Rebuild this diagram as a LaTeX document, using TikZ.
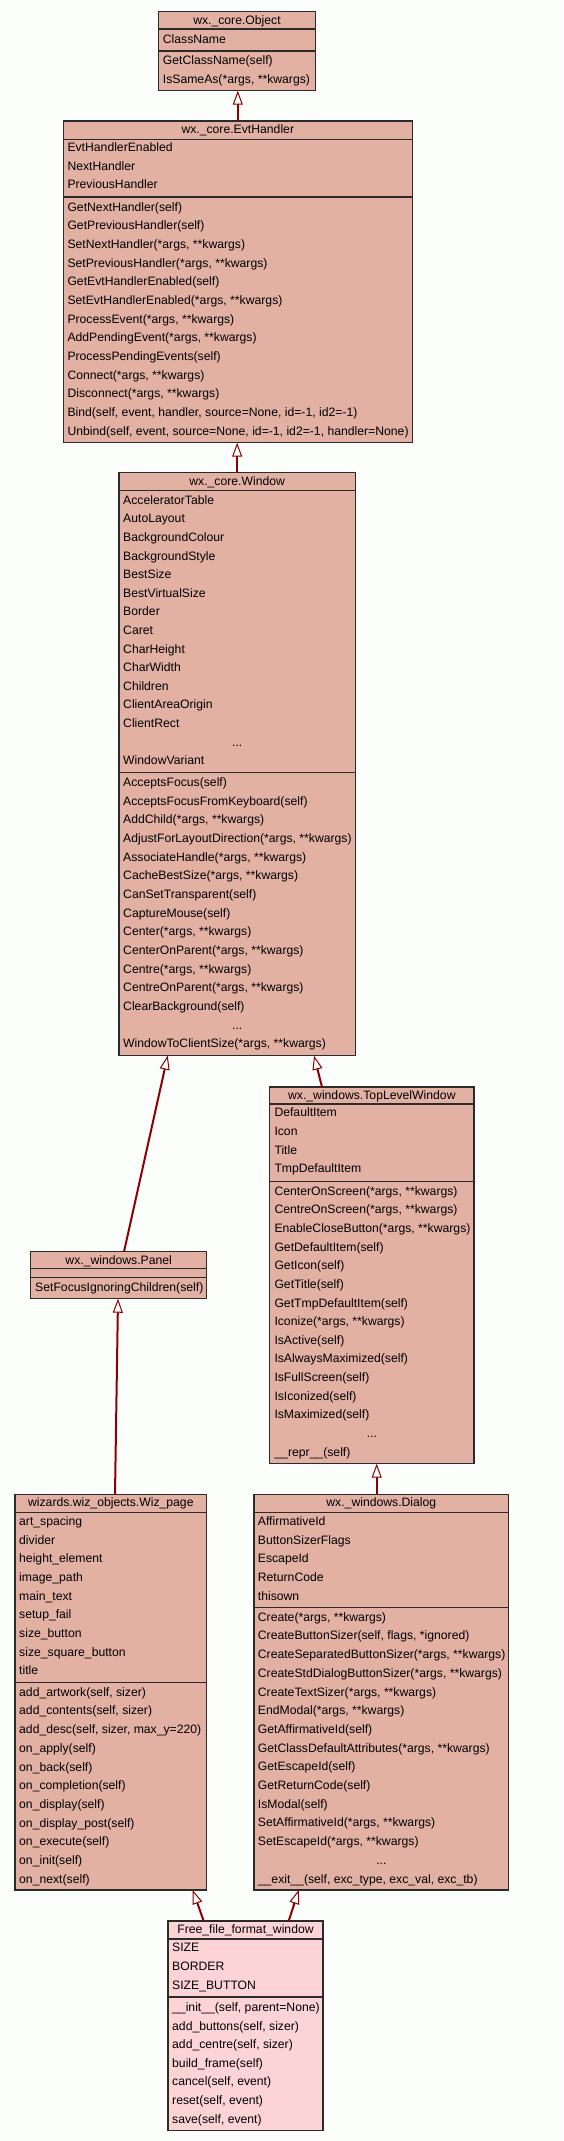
\documentclass[tikz,border=0pt]{standalone}
\usepackage{fontspec}
\setmainfont{Liberation Sans}
\usetikzlibrary{arrows.meta,fit}
\definecolor{clsfill}{HTML}{E2B1A3}
\definecolor{mainfill}{HTML}{FDD4D6}
\definecolor{inh}{HTML}{8B0000}
\definecolor{bg}{HTML}{FCFEFC}
\definecolor{bord}{HTML}{2B2B2B}
% #1 name #2 left #3 right #4 top #5 title sep #6 attr sep #7 bottom #8 fill
\newcommand\umlbox[8]{%
  \node[classbox, fill=#8, fit={(#2,#4) (#3,#7)}] (#1) {};
  \draw[sepline] (#2,#5) -- (#3,#5);
  \draw[sepline] (#2,#6) -- (#3,#6);
}
% #1 prefix #2 x #3 y of row 0 (centre) #4 row step #5 start row #6 list
\newcommand\crows[6]{%
  \foreach \t [count=\i from #5] in {#6} {%
    \node[rowtext] (#1-\i) at (#2,{#3+\i*#4+4.5}) {\t};
  }%
}
\begin{document}
\begin{tikzpicture}[x=1pt,y=-1pt,
  classbox/.style={draw=bord, line width=1.2pt, inner sep=0pt, outer sep=0pt},
  sepline/.style={draw=bord, line width=1.2pt},
  rowtext/.style={anchor=base west, inner sep=0pt, font=\fontsize{12.2}{14}\selectfont, text=black},
  titletext/.style={anchor=base, inner sep=0pt, font=\fontsize{12.2}{14}\selectfont, text=black},
  inherit/.style={draw=inh, line width=2pt, -{Triangle[length=14pt, width=10pt, fill=white, line width=1pt]}}]
\fill[bg] (0,0) rectangle (563,2141);
\useasboundingbox (0,0) rectangle (563,2141);

% wx._core.Object
\umlbox{obj}{158.3}{315.7}{11.7}{29}{51}{90.7}{clsfill}
\node[titletext] (obj-t) at (237,24.1) {wx.\_core.Object};
\crows{obj-a}{162.7}{38.7}{18.65}{0}{ClassName}
\crows{obj-m}{162.7}{60}{19.3}{0}{GetClassName(self), {IsSameAs(*args, **kwargs)}}

% wx._core.EvtHandler
\umlbox{evt}{63.3}{412.3}{121}{139.3}{197}{442.7}{clsfill}
\node[titletext] (evt-t) at (237.8,133.3) {wx.\_core.EvtHandler};
\crows{evt-a}{67.3}{147}{18.65}{0}{EvtHandlerEnabled, NextHandler, PreviousHandler}
\crows{evt-m}{67.3}{206.7}{18.67}{0}{GetNextHandler(self), GetPreviousHandler(self), {SetNextHandler(*args, **kwargs)}, {SetPreviousHandler(*args, **kwargs)}, GetEvtHandlerEnabled(self), {SetEvtHandlerEnabled(*args, **kwargs)}, {ProcessEvent(*args, **kwargs)}, {AddPendingEvent(*args, **kwargs)}, ProcessPendingEvents(self), {Connect(*args, **kwargs)}, {Disconnect(*args, **kwargs)}, {Bind(self, event, handler, source=None, id=-1, id2=-1)}, {Unbind(self, event, source=None, id=-1, id2=-1, handler=None)}}

% wx._core.Window
\umlbox{win}{119}{355.3}{472.7}{490.7}{772.7}{1055.7}{clsfill}
\node[titletext] (win-t) at (237.2,485) {wx.\_core.Window};
\crows{win-a}{123}{499.7}{18.6}{0}{AcceleratorTable, AutoLayout, BackgroundColour, BackgroundStyle, BestSize, BestVirtualSize, Border, Caret, CharHeight, CharWidth, Children, ClientAreaOrigin, ClientRect}
\node[titletext] (win-adots) at (237.2,{499.7+13*18.6+4.5}) {...};
\crows{win-a}{123}{499.7}{18.6}{14}{WindowVariant}
\crows{win-m}{123}{782}{18.67}{0}{AcceptsFocus(self), AcceptsFocusFromKeyboard(self), {AddChild(*args, **kwargs)}, {AdjustForLayoutDirection(*args, **kwargs)}, {AssociateHandle(*args, **kwargs)}, {CacheBestSize(*args, **kwargs)}, CanSetTransparent(self), CaptureMouse(self), {Center(*args, **kwargs)}, {CenterOnParent(*args, **kwargs)}, {Centre(*args, **kwargs)}, {CentreOnParent(*args, **kwargs)}, ClearBackground(self)}
\node[titletext] (win-mdots) at (237.2,{782+13*18.67+4.5}) {...};
\crows{win-m}{123}{782}{18.67}{14}{{WindowToClientSize(*args, **kwargs)}}

% wx._windows.TopLevelWindow
\umlbox{tlw}{269.7}{474}{1087}{1104}{1181.3}{1463.7}{clsfill}
\node[titletext] (tlw-t) at (371.85,1099.3) {wx.\_windows.TopLevelWindow};
\crows{tlw-a}{274.3}{1112.3}{18.67}{0}{DefaultItem, Icon, Title, TmpDefaultItem}
\crows{tlw-m}{274.3}{1190.7}{18.64}{0}{{CenterOnScreen(*args, **kwargs)}, {CentreOnScreen(*args, **kwargs)}, {EnableCloseButton(*args, **kwargs)}, GetDefaultItem(self), GetIcon(self), GetTitle(self), GetTmpDefaultItem(self), {Iconize(*args, **kwargs)}, IsActive(self), IsAlwaysMaximized(self), IsFullScreen(self), IsIconized(self), IsMaximized(self)}
\node[titletext] (tlw-mdots) at (371.85,{1190.7+13*18.64+4.5}) {...};
\crows{tlw-m}{274.3}{1190.7}{18.64}{14}{\_\_repr\_\_(self)}

% wx._windows.Panel
\umlbox{pan}{30.7}{206.7}{1251.7}{1268.7}{1277.3}{1298.7}{clsfill}
\node[titletext] (pan-t) at (118.7,1264) {wx.\_windows.Panel};
\crows{pan-m}{35}{1287}{18.65}{0}{SetFocusIgnoringChildren(self)}

% wizards.wiz_objects.Wiz_page
\umlbox{wiz}{15}{206.7}{1494.3}{1512.3}{1682.3}{1890}{clsfill}
\node[titletext] (wiz-t) at (110.85,1506.6) {wizards.wiz\_objects.Wiz\_page};
\crows{wiz-a}{19}{1521}{18.68}{0}{art\_spacing, divider, height\_element, image\_path, main\_text, setup\_fail, size\_button, size\_square\_button, title}
\crows{wiz-m}{19}{1691.7}{18.7}{0}{{add\_artwork(self, sizer)}, {add\_contents(self, sizer)}, {add\_desc(self, sizer, max\_y=220)}, on\_apply(self), on\_back(self), on\_completion(self), on\_display(self), on\_display\_post(self), on\_execute(self), on\_init(self), on\_next(self)}

% wx._windows.Dialog
\umlbox{dlg}{254}{508.7}{1494.3}{1512.3}{1607.7}{1890}{clsfill}
\node[titletext] (dlg-t) at (381.35,1506.6) {wx.\_windows.Dialog};
\crows{dlg-a}{257.7}{1521}{18.7}{0}{AffirmativeId, ButtonSizerFlags, EscapeId, ReturnCode, thisown}
\crows{dlg-m}{257.7}{1616.7}{18.7}{0}{{Create(*args, **kwargs)}, {CreateButtonSizer(self, flags, *ignored)}, {CreateSeparatedButtonSizer(*args, **kwargs)}, {CreateStdDialogButtonSizer(*args, **kwargs)}, {CreateTextSizer(*args, **kwargs)}, {EndModal(*args, **kwargs)}, GetAffirmativeId(self), {GetClassDefaultAttributes(*args, **kwargs)}, GetEscapeId(self), GetReturnCode(self), IsModal(self), {SetAffirmativeId(*args, **kwargs)}, {SetEscapeId(*args, **kwargs)}}
\node[titletext] (dlg-mdots) at (381.35,{1616.7+13*18.7+4.5}) {...};
\crows{dlg-m}{257.7}{1616.7}{18.7}{14}{{\_\_exit\_\_(self, exc\_type, exc\_val, exc\_tb)}}

% Free_file_format_window
\umlbox{free}{168}{323}{1921}{1939}{1997}{2130.3}{mainfill}
\node[titletext] (free-t) at (245.5,1933.3) {Free\_file\_format\_window};
\crows{free-a}{172}{1947.3}{18.6}{0}{SIZE, BORDER, SIZE\_BUTTON}
\crows{free-m}{172}{2007}{18.6}{0}{{\_\_init\_\_(self, parent=None)}, {add\_buttons(self, sizer)}, {add\_centre(self, sizer)}, build\_frame(self), {cancel(self, event)}, {reset(self, event)}, {save(self, event)}}

% inheritance connectors
\draw[inherit] (evt.north) -- (evt.north |- obj.south);
\draw[inherit] (win.north) -- (win.north |- evt.south);
\draw[inherit] ([xshift=93.3pt]pan.north west) -- ([xshift=48.7pt]win.south west);
\draw[inherit] ([xshift=52.3pt]tlw.north west) -- ([xshift=195pt]win.south west);
\draw[inherit] ([xshift=100pt]wiz.north west) -- ([xshift=87.3pt]pan.south west);
\draw[inherit] ([xshift=122.7pt]dlg.north west) -- ([xshift=107pt]tlw.south west);
\draw[inherit] ([xshift=35.7pt]free.north west) -- ([xshift=177.7pt]wiz.south west);
\draw[inherit] ([xshift=120.7pt]free.north west) -- ([xshift=44.7pt]dlg.south west);
\end{tikzpicture}
\end{document}
